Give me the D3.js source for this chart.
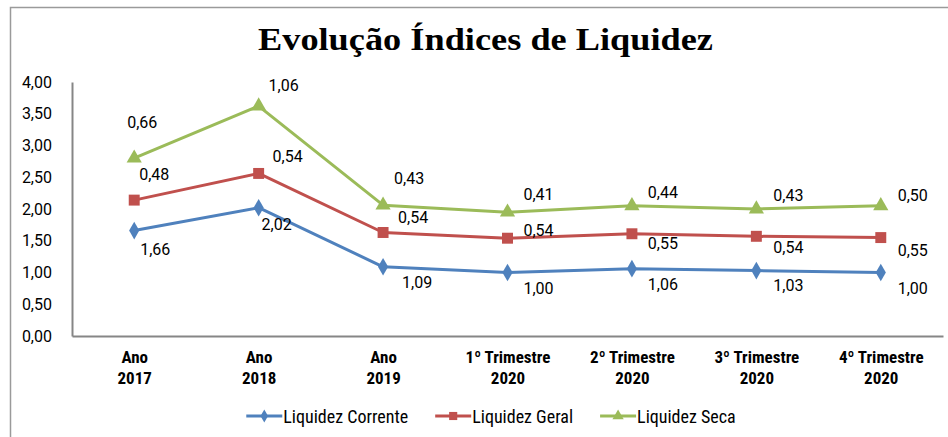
<!DOCTYPE html>
<html>
<head>
<meta charset="utf-8">
<script src="https://cdn.jsdelivr.net/npm/d3@7"></script>
<style>
  body { margin: 0; background: #fff; }
  svg { display: block; }
</style>
</head>
<body>
<div id="chart"></div>
<script>
// data
var categoryTop = ["Ano", "Ano", "Ano", "1º Trimestre", "2º Trimestre", "3º Trimestre", "4º Trimestre"];
var categoryBottom = ["2017", "2018", "2019", "2020", "2020", "2020", "2020"];
var liquidezCorrente = [1.66, 2.02, 1.09, 1.00, 1.06, 1.03, 1.00];
var liquidezGeral = [0.48, 0.54, 0.54, 0.54, 0.55, 0.54, 0.55];
var liquidezSeca = [0.66, 1.06, 0.43, 0.41, 0.44, 0.43, 0.50];
var yTicks = [0, 0.5, 1, 1.5, 2, 2.5, 3, 3.5, 4];

// label placement (text centre relative to the marker), like Excel put them
var labelDx = {
  corrente: [21, 18, 34, 31, 31, 32, 32],
  geral: [20, 29, 30, 31, 31, 32, 32],
  seca: [8, 25, 26, 31, 31, 32, 32]
};
var labelDy = {
  corrente: [19, 17, 16, 16, 16, 15, 16],
  geral: [-26, -17, -15, -8, 10, 11, 13],
  seca: [-36, -21, -27, -18, -13, -14, -10]
};

var series = [
  { key: "corrente", name: "Liquidez Corrente", values: liquidezCorrente, color: "#4F81BD", symbol: d3.symbolDiamond, size: 90 },
  { key: "geral", name: "Liquidez Geral", values: liquidezGeral, color: "#C0504D", symbol: d3.symbolSquare, size: 120 },
  { key: "seca", name: "Liquidez Seca", values: liquidezSeca, color: "#9BBB59", symbol: d3.symbolTriangle, size: 100 }
];

var width = 948, height = 437;
var plot = { left: 72, right: 943, top: 82, bottom: 336 };
var labelFont = "Roboto, 'Liberation Sans', sans-serif";
var catFont = "'Liberation Sans Narrow', 'Roboto Condensed', Roboto, sans-serif";

var fmt = d3.formatLocale({ decimal: ",", thousands: ".", grouping: [3], currency: ["", ""] }).format(".2f");

var rows = categoryTop.map(function(c, i) {
  var r = { i: i };
  series.forEach(function(s) { r[s.key] = s.values[i]; });
  return r;
});
var stacked = d3.stack().keys(series.map(s => s.key))(rows);

var x = d3.scalePoint()
  .domain(d3.range(categoryTop.length))
  .range([plot.left, plot.right])
  .padding(0.5);

var y = d3.scaleLinear()
  .domain([0, 4])
  .range([plot.bottom, plot.top]);

var svg = d3.select("#chart")
  .append("svg")
  .attr("width", width)
  .attr("height", height);

// outer frame
svg.append("rect")
  .attr("x", 10.5).attr("y", 7.5)
  .attr("width", width).attr("height", height)
  .attr("fill", "none")
  .attr("stroke", "#9a9a9a")
  .attr("stroke-width", 1.5);

svg.append("text")
  .attr("x", 485.5)
  .attr("y", 50)
  .attr("text-anchor", "middle")
  .attr("font-family", "'Liberation Serif', 'DejaVu Serif', serif")
  .attr("font-weight", "bold")
  .attr("font-size", 31)
  .attr("textLength", 455)
  .attr("lengthAdjust", "spacingAndGlyphs")
  .attr("fill", "#000")
  .text("Evolução Índices de Liquidez");

// y axis
var yAxis = svg.append("g")
  .attr("transform", `translate(${plot.left},0)`)
  .call(d3.axisLeft(y).tickValues(yTicks).tickSize(0).tickSizeOuter(0).tickPadding(20).tickFormat(fmt));
yAxis.select(".domain").attr("stroke", "#868686").attr("stroke-width", 2);
yAxis.selectAll("text")
  .attr("font-family", labelFont)
  .attr("font-size", 16)
  .attr("fill", "#000");

// x axis
var xAxis = svg.append("g")
  .attr("transform", `translate(0,${plot.bottom})`)
  .call(d3.axisBottom(x).tickSize(0).tickSizeOuter(0).tickFormat(""));
xAxis.select(".domain").attr("stroke", "#868686").attr("stroke-width", 2);
xAxis.selectAll(".tick text").remove();
xAxis.selectAll(".tick")
  .append("text")
  .attr("text-anchor", "middle")
  .attr("font-family", catFont)
  .attr("font-weight", "bold")
  .attr("font-size", 17)
  .attr("fill", "#000")
  .each(function(d) {
    var t = d3.select(this);
    t.append("tspan").attr("x", 0).attr("y", 27).text(categoryTop[d]);
    t.append("tspan").attr("x", 0).attr("y", 48).text(categoryBottom[d]);
  });

var line = d3.line()
  .x(d => x(d.data.i))
  .y(d => y(d[1]));

series.forEach(function(s, si) {
  var layer = stacked[si];
  var g = svg.append("g");

  g.append("path")
    .datum(layer)
    .attr("d", line)
    .attr("fill", "none")
    .attr("stroke", s.color)
    .attr("stroke-width", 3)
    .attr("stroke-linejoin", "round");

  g.selectAll(".mark")
    .data(layer)
    .enter()
    .append("path")
    .attr("class", "mark")
    .attr("d", d3.symbol().type(s.symbol).size(s.size))
    .attr("transform", d => `translate(${x(d.data.i)},${y(d[1])})`)
    .attr("fill", s.color);

  g.selectAll(".lbl")
    .data(layer)
    .enter()
    .append("text")
    .attr("class", "lbl")
    .attr("x", (d, i) => x(d.data.i) + labelDx[s.key][i])
    .attr("y", (d, i) => y(d[1]) + labelDy[s.key][i])
    .attr("text-anchor", "middle")
    .attr("dominant-baseline", "central")
    .attr("font-family", labelFont)
    .attr("font-size", 16)
    .attr("fill", "#000")
    .text(d => fmt(d.data[s.key]));
});

// legend
var legend = svg.append("g").attr("transform", "translate(0,416)");
var items = legend.selectAll(".legend-item")
  .data(series)
  .enter()
  .append("g")
  .attr("class", "legend-item");

items.append("line")
  .attr("x1", 0).attr("x2", 36)
  .attr("stroke", d => d.color)
  .attr("stroke-width", 3);
items.append("path")
  .attr("d", d => d3.symbol().type(d.symbol).size(d.size * 0.55)())
  .attr("transform", "translate(18,0)")
  .attr("fill", d => d.color);
items.append("text")
  .attr("x", 37)
  .attr("dominant-baseline", "central")
  .attr("font-family", catFont)
  .attr("font-size", 18)
  .attr("fill", "#000")
  .text(d => d.name);

var widths = [];
items.each(function() { widths.push(this.getBBox().width); });
var gap = 27;
var total = d3.sum(widths) + gap * (widths.length - 1);
var pos = 491 - total / 2;
items.each(function(d, i) {
  d3.select(this).attr("transform", `translate(${pos},0)`);
  pos += widths[i] + gap;
});
</script>
</body>
</html>
